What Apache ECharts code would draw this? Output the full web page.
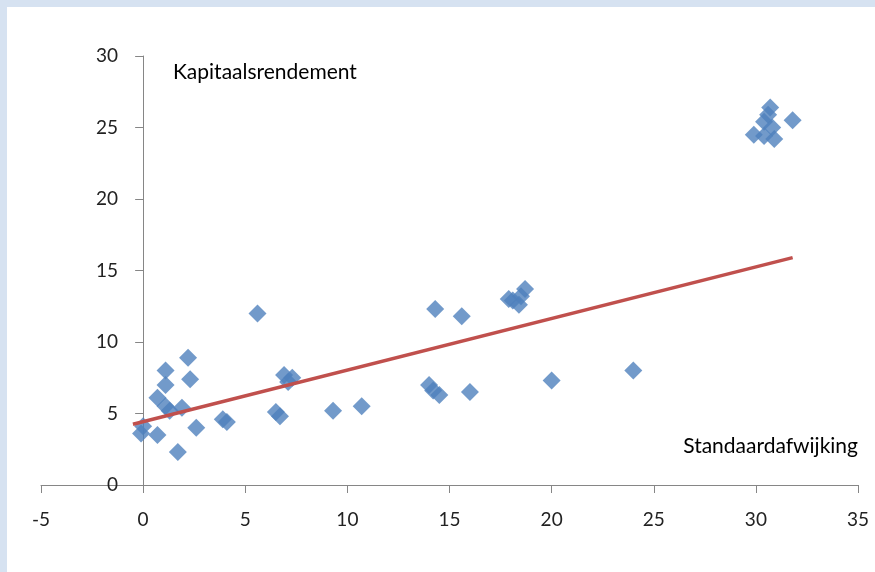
<!DOCTYPE html>
<html>
<head>
<meta charset="utf-8">
<script src="https://cdn.jsdelivr.net/npm/echarts@6/dist/echarts.min.js"></script>
<style>
html,body{margin:0;padding:0;}
#wrap{position:relative;width:875px;height:572px;background:#D6E2F1;overflow:hidden;}
#inner{position:absolute;left:7px;top:7px;right:0;bottom:0;background:#ffffff;}
#chart{position:absolute;left:0;top:0;width:875px;height:572px;}
</style>
</head>
<body>
<div id="wrap"><div id="inner"></div><div id="chart"></div></div>
<script>
// Standaardafwijking (x) and Kapitaalsrendement (y)
const xValues = [-0.1, 0.0, 0.7, 1.7, 0.7, 1.1, 1.3, 1.1, 1.1, 2.2, 2.3, 1.9, 2.6, 3.9, 4.1,
  6.9, 7.3, 7.1, 6.5, 6.7, 9.3, 10.7, 5.6, 14.3, 15.6, 14.0, 14.2, 14.5, 16.0,
  17.9, 18.1, 18.4, 18.5, 18.7, 20.0, 24.0,
  30.7, 30.6, 30.4, 30.8, 29.9, 30.4, 30.9, 31.8];
const yValues = [3.6, 4.1, 3.5, 2.3, 6.1, 5.5, 5.2, 7.0, 8.0, 8.9, 7.4, 5.4, 4.0, 4.6, 4.4,
  7.7, 7.5, 7.2, 5.1, 4.8, 5.2, 5.5, 12.0, 12.3, 11.8, 7.0, 6.6, 6.3, 6.5,
  13.0, 12.9, 12.6, 13.2, 13.7, 7.3, 8.0,
  26.4, 25.9, 25.4, 25.0, 24.5, 24.4, 24.2, 25.5];
const trendX = [-0.5, 31.8];
const trendY = [4.25, 15.9];
const xTicks = [-5, 0, 5, 10, 15, 20, 25, 30, 35];
const yTicks = [0, 5, 10, 15, 20, 25, 30];
const yTitle = 'Kapitaalsrendement';
const xTitle = 'Standaardafwijking';

const points = xValues.map((x, i) => [x, yValues[i]]);
const trend = trendX.map((x, i) => [x, trendY[i]]);

const FONT = 'Lato, "Open Sans", sans-serif';
const axisColor = '#868686';

const GRID_LEFT = 41, GRID_RIGHT = 17;
const plotWidth = 875 - GRID_LEFT - GRID_RIGHT;
const xMin = xTicks[0], xMax = xTicks[xTicks.length - 1];
// shift the vertical axis (line, ticks, labels) to x = 0, where it crosses
const yAxisOffset = -plotWidth * (0 - xMin) / (xMax - xMin);

const chart = echarts.init(document.getElementById('chart'), null, {renderer: 'canvas'});
chart.setOption({
  backgroundColor: 'transparent',
  animation: false,
  grid: {left: GRID_LEFT, right: GRID_RIGHT, top: 56, bottom: 87, containLabel: false, outerBoundsMode: 'none'},
  xAxis: {
    type: 'value', min: xMin, max: xMax, interval: 5,
    axisLine: {show: true, onZero: true, lineStyle: {color: axisColor, width: 1}},
    axisTick: {show: true, length: 8, inside: false, lineStyle: {color: axisColor}},
    axisLabel: {fontFamily: FONT, fontSize: 19, color: '#222', margin: 25},
    splitLine: {show: false}
  },
  yAxis: {
    type: 'value', min: yTicks[0], max: yTicks[yTicks.length - 1], interval: 5,
    position: 'left', offset: yAxisOffset,
    axisLine: {show: true, onZero: false, lineStyle: {color: axisColor, width: 1}},
    axisTick: {show: true, length: 8, inside: false, lineStyle: {color: axisColor}},
    axisLabel: {fontFamily: FONT, fontSize: 19, color: '#222', margin: 25},
    splitLine: {show: false}
  },
  graphic: [
    {type: 'text', left: 173, top: 62, style: {text: yTitle, font: '21px ' + FONT, fill: '#000'}},
    {type: 'text', right: 17, top: 436, style: {text: xTitle, font: '21px ' + FONT, fill: '#000'}}
  ],
  series: [
    {
      type: 'scatter', data: points, symbol: 'diamond', symbolSize: 18,
      itemStyle: {color: '#4F81BD'}, z: 2
    },
    {
      type: 'line', data: trend, symbol: 'none', z: 3,
      lineStyle: {color: '#C0504D', width: 3.5}
    }
  ]
});
</script>
</body>
</html>
